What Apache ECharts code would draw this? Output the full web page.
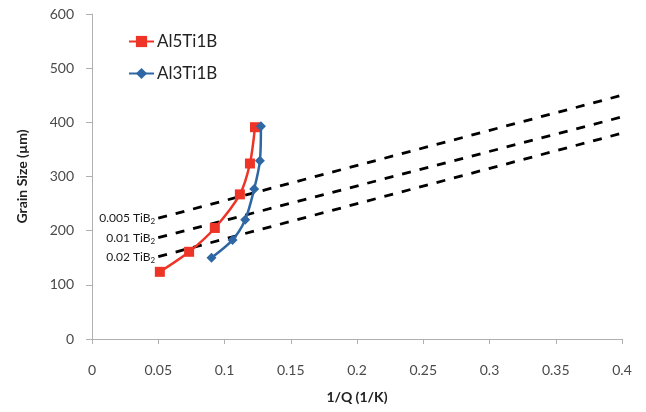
<!DOCTYPE html>
<html>
<head>
<meta charset="utf-8">
<script src="https://cdn.jsdelivr.net/npm/echarts@6/dist/echarts.min.js"></script>
<style>
  html, body { margin: 0; padding: 0; background: #fff; }
  #main { width: 646px; height: 412px; }
</style>
</head>
<body>
<div id="main"></div>
<script>
// measured points
const al5X = [0.0512, 0.0733, 0.0927, 0.1116, 0.1192, 0.1230];
const al5Y = [124, 161, 205, 267, 324, 391];
const al3X = [0.0902, 0.1061, 0.1156, 0.1224, 0.1267, 0.1275];
const al3Y = [150, 183, 220, 277, 329, 393];

// dashed reference lines (start / end)
const refX = [0.05, 0.4];
const ref005 = [223, 450];
const ref01 = [187, 410];
const ref02 = [152, 380];
const refNames = ['0.005', '0.01', '0.02'];

const font = 'Lato, "Open Sans", sans-serif';
const pairs = (xs, ys) => xs.map((x, i) => [x, ys[i]]);

function refLine(ys, name) {
    return {
        name: name + ' TiB2',
        type: 'line',
        data: pairs(refX, ys),
        symbol: 'none',
        silent: true,
        lineStyle: { color: '#000', width: 2.8, type: [9, 9] },
        markPoint: {
            symbol: 'circle',
            symbolSize: 0,
            data: [{ coord: [refX[0], ys[0]] }],
            label: {
                show: true,
                position: 'left',
                distance: 3,
                formatter: name + ' TiB{s|2}',
                color: '#1a1a1a',
                fontSize: 12,
                fontFamily: font,
                rich: { s: { fontSize: 8, verticalAlign: 'bottom', padding: [7, 0, 0, 0], fontFamily: font, color: '#1a1a1a' } }
            }
        }
    };
}

const chart = echarts.init(document.getElementById('main'));
chart.setOption({
    animation: false,
    grid: { left: 92, right: 24, top: 14, bottom: 73 },
    legend: {
        data: ['Al5Ti1B', 'Al3Ti1B'],
        orient: 'vertical',
        left: 123,
        top: 28,
        itemWidth: 25,
        itemHeight: 14,
        itemGap: 15,
        textStyle: { fontFamily: font, fontSize: 17, color: '#222', padding: [0, 0, 0, -2] }
    },
    xAxis: {
        type: 'value',
        min: 0, max: 0.4, interval: 0.05,
        name: '1/Q (1/K)',
        nameLocation: 'middle',
        nameGap: 51,
        nameTextStyle: { fontFamily: font, fontSize: 14, fontWeight: 'bold', color: '#222' },
        axisLine: { lineStyle: { color: '#b0b0b0', width: 1 } },
        axisTick: { show: true, length: 5, lineStyle: { color: '#b0b0b0' } },
        axisLabel: { margin: 24, fontFamily: font, fontSize: 14, color: '#4a4a4a' },
        splitLine: { show: false }
    },
    yAxis: {
        type: 'value',
        min: 0, max: 600, interval: 100,
        name: 'Grain Size (µm)',
        nameLocation: 'middle',
        nameGap: 63,
        nameTextStyle: { fontFamily: font, fontSize: 14, fontWeight: 'bold', color: '#222' },
        axisLine: { show: true, lineStyle: { color: '#b0b0b0', width: 1 } },
        axisTick: { show: true, length: 6, lineStyle: { color: '#b0b0b0' } },
        axisLabel: { margin: 18, fontFamily: font, fontSize: 14, color: '#4a4a4a' },
        splitLine: { show: false }
    },
    series: [
        refLine(ref005, refNames[0]),
        refLine(ref01, refNames[1]),
        refLine(ref02, refNames[2]),
        {
            name: 'Al5Ti1B',
            type: 'line',
            data: pairs(al5X, al5Y),
            symbol: 'rect',
            symbolSize: 10,
            smooth: 0.3,
            itemStyle: { color: '#ee3426' },
            lineStyle: { color: '#ee3426', width: 2.5 }
        },
        {
            name: 'Al3Ti1B',
            type: 'line',
            data: pairs(al3X, al3Y),
            symbol: 'diamond',
            symbolSize: 10,
            smooth: 0.3,
            itemStyle: { color: '#2e67a3' },
            lineStyle: { color: '#2e67a3', width: 2.5 }
        }
    ]
});
</script>
</body>
</html>
